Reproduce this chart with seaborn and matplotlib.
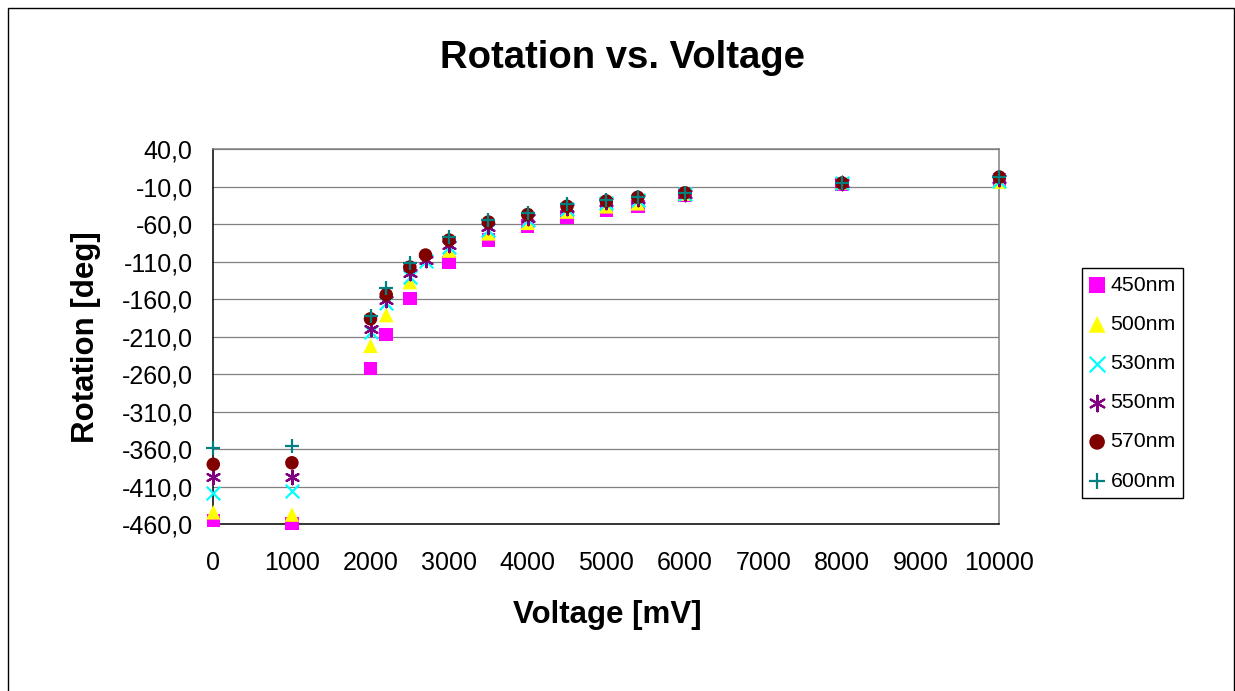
import matplotlib
matplotlib.use("Agg")
import numpy as np
import matplotlib.pyplot as plt
from matplotlib.patches import Rectangle
from matplotlib.ticker import MultipleLocator, FixedLocator, FuncFormatter
import seaborn as sns

# voltage steps [mV]
volts = [0, 1000, 2000, 2200, 2500, 3000, 3500, 4000, 4500, 5000, 5400, 6000, 8000, 10000]
volts_2700 = [0, 1000, 2000, 2200, 2500, 2700, 3000, 3500, 4000, 4500, 5000, 5400, 6000, 8000, 10000]

# rotation [deg] per wavelength
rot_450 = [-455, -459, -252, -207, -159, -111, -81, -62, -50, -41, -36, -21, -7, -1]
rot_500 = [-444, -447, -222, -181, -137, -95, -72, -58, -43, -36, -32, -19, -4, -3]
rot_530 = [-418, -415, -203, -165, -130, -109, -90, -67, -54, -40, -31, -27, -19, -5, -2]
rot_550 = [-397, -397, -199, -161, -125, -108, -88, -64, -52, -38, -30, -26, -19, -5, 0]
rot_570 = [-380, -378, -186, -154, -117, -101, -81, -57, -47, -36, -29, -24, -18, -5, 3]
rot_600 = [-358, -356, -182, -145, -112, -77, -54, -45, -33, -28, -23, -18, -5, 3]

labels = ["450nm", "500nm", "530nm", "550nm", "570nm", "600nm"]
colors = ["#FF00FF", "#FFFF00", "#00FFFF", "#800080", "#800000", "#008080"]
markers = ["s", "^", "x", (6, 2, 0), "o", "+"]

sns.set_style("white")
plt.rcParams['font.family'] = ['Liberation Sans', 'DejaVu Sans']
plt.rcParams['text.color'] = 'black'
plt.rcParams['axes.labelcolor'] = 'black'
plt.rcParams['xtick.color'] = 'black'
plt.rcParams['ytick.color'] = 'black'

fig = plt.figure(figsize=(12.35, 6.91), dpi=100)
W, H = 1235.0, 691.0
ax = fig.add_axes([213.3 / W, 1 - 524.3 / H, 786 / W, 375 / H])

series = [
    (volts, rot_450), (volts, rot_500), (volts_2700, rot_530),
    (volts_2700, rot_550), (volts_2700, rot_570), (volts, rot_600),
]
for (xs, ys), lab, col, mk in zip(series, labels, colors, markers):
    filled = mk in ("s", "^", "o")
    sns.scatterplot(
        x=xs, y=ys, ax=ax, label=lab, color=col, marker=mk,
        s=95 if mk != "^" else 110,
        edgecolor="none" if filled else col,
        linewidth=0 if filled else 1.6,
        clip_on=False, zorder=3,
    )

ax.set_xlim(0, 10000)
ax.set_ylim(-460, 40)
ax.xaxis.set_major_locator(MultipleLocator(1000))
ax.xaxis.set_minor_locator(MultipleLocator(200))
ax.yaxis.set_major_locator(FixedLocator(np.arange(-460, 41, 50)))
ax.yaxis.set_minor_locator(FixedLocator(np.arange(-460, 41, 10)))
ax.yaxis.set_major_formatter(FuncFormatter(lambda v, p: f"{v:.1f}".replace(".", ",")))

ax.grid(False)
ax.yaxis.grid(True, which="major", color="#808080", linewidth=0.9)
ax.set_axisbelow(True)

for side in ["left", "bottom"]:
    ax.spines[side].set_color("black")
    ax.spines[side].set_linewidth(1.1)
for side in ["right", "top"]:
    ax.spines[side].set_color("#808080")
    ax.spines[side].set_linewidth(1.1)

ax.tick_params(axis="x", which="major", direction="inout", length=11.5, width=1,
               color="black", labelsize=18, pad=13.5)
ax.tick_params(axis="x", which="minor", direction="out", length=4.7, width=1, color="black")
ax.tick_params(axis="y", which="major", direction="inout", length=10.8, width=1,
               color="black", labelsize=18, pad=9.4)
ax.tick_params(axis="y", which="minor", direction="out", length=4.8, width=1, color="black")

ax.set_xlabel("")
ax.set_ylabel("")

# titles
fig.text(622.5 / W, 1 - 68 / H, "Rotation vs. Voltage", ha="center", va="baseline",
         fontsize=27.5, fontweight="bold")
fig.text(607 / W, 1 - 623 / H, "Voltage [mV]", ha="center", va="baseline",
         fontsize=22.5, fontweight="bold")
fig.text(94 / W, 1 - 337.5 / H, "Rotation [deg]", ha="center", va="baseline",
         rotation=90, rotation_mode="anchor", fontsize=22.5, fontweight="bold")

leg = ax.legend(loc="upper left", bbox_to_anchor=(1081.7 / W, 1 - 268.3 / H),
                bbox_transform=fig.transFigure, fontsize=15.3, frameon=True,
                fancybox=False, edgecolor="black", framealpha=1,
                borderpad=0.35, labelspacing=0.95, handletextpad=0.25,
                handlelength=0.75, borderaxespad=0, markerscale=1.15)
leg.get_frame().set_linewidth(1.0)

# outer chart border
fig.add_artist(Rectangle((7.5 / W, -0.1), (1233.5 - 7.5) / W, 1.1 - 7.5 / H,
                         transform=fig.transFigure, fill=False,
                         edgecolor="black", linewidth=1.0))

fig.savefig("out.png", dpi=100)
